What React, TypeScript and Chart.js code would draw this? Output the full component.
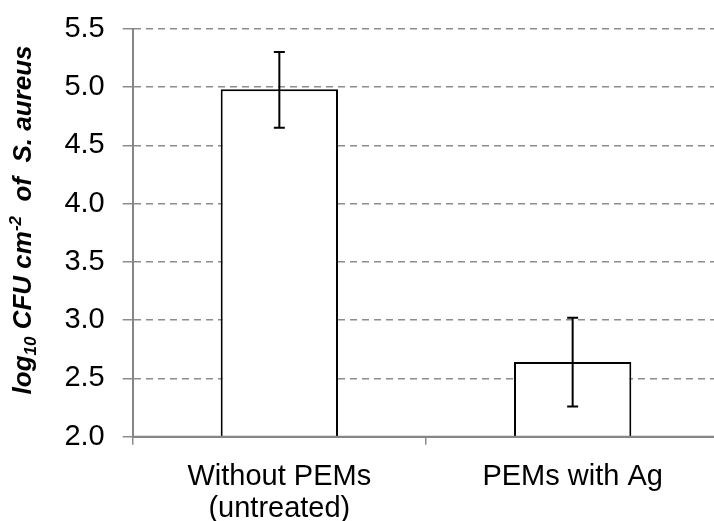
import React, { useEffect, useRef } from 'react';
import { Chart, registerables } from 'chart.js';

Chart.register(...registerables);

// ---- data ----
const categories: (string | string[])[] = [['Without PEMs', '(untreated)'], 'PEMs with Ag'];
const means: number[] = [4.98, 2.64];
const errLow: number[] = [4.65, 2.26];
const errHigh: number[] = [5.30, 3.02];
const yMin = 2.0;
const yMax = 5.5;
const yStep = 0.5;
const titleParts = [
  { t: 'log', sub: 0 },
  { t: '10', sub: 1 },
  { t: ' CFU cm', sub: 0 },
  { t: '-2', sub: -1 },
  { t: '  of  S. aureus', sub: 0 },
];

const FONT = 'Arial, "Liberation Sans", sans-serif';
const GRID = '#8c8c8c';
const AXIS = '#868686';

const errorBarPlugin = {
  id: 'errorBars',
  afterDatasetsDraw(chart: any) {
    const { ctx, chartArea } = chart;
    const meta = chart.getDatasetMeta(0);
    const ys = chart.scales.y;
    ctx.save();
    // redraw x-axis line over bar bases
    ctx.strokeStyle = AXIS;
    ctx.lineWidth = 2;
    ctx.beginPath();
    ctx.moveTo(chartArea.left, chartArea.bottom);
    ctx.lineTo(chartArea.right, chartArea.bottom);
    ctx.stroke();
    ctx.strokeStyle = '#000';
    ctx.lineWidth = 2;
    const cap = 5.5;
    meta.data.forEach((bar: any, i: number) => {
      const x = bar.x;
      const yl = ys.getPixelForValue(errLow[i]);
      const yh = ys.getPixelForValue(errHigh[i]);
      ctx.beginPath();
      ctx.moveTo(x, yl);
      ctx.lineTo(x, yh);
      ctx.moveTo(x - cap, yh);
      ctx.lineTo(x + cap, yh);
      ctx.moveTo(x - cap, yl);
      ctx.lineTo(x + cap, yl);
      ctx.stroke();
    });
    ctx.restore();
  },
};

const yTitlePlugin = {
  id: 'yTitle',
  afterDraw(chart: any) {
    const { ctx } = chart;
    const big = 26;
    const small = 17;
    ctx.save();
    ctx.fillStyle = '#000';
    ctx.textBaseline = 'alphabetic';
    ctx.textAlign = 'left';
    const fontFor = (s: number) => `italic bold ${s}px ${FONT}`;
    let total = 0;
    const widths = titleParts.map((p) => {
      ctx.font = fontFor(p.sub ? small : big);
      const w = ctx.measureText(p.t).width;
      total += w;
      return w;
    });
    ctx.translate(31, 220);
    ctx.rotate(-Math.PI / 2);
    let x = -total / 2;
    titleParts.forEach((p, i) => {
      ctx.font = fontFor(p.sub ? small : big);
      const dy = p.sub === 1 ? 5 : p.sub === -1 ? -10 : 0;
      ctx.fillText(p.t, x, dy);
      x += widths[i];
    });
    ctx.restore();
  },
};

export default function App() {
  const ref = useRef<HTMLCanvasElement | null>(null);
  useEffect(() => {
    if (!ref.current) return;
    const chart = new Chart(ref.current, {
      type: 'bar',
      data: {
        labels: categories as any,
        datasets: [
          {
            data: means,
            backgroundColor: '#ffffff',
            borderColor: '#000000',
            borderWidth: 2,
            barPercentage: 0.4,
            categoryPercentage: 1,
          },
        ],
      },
      options: {
        responsive: false,
        animation: false,
        devicePixelRatio: 1,
        layout: { padding: { left: 0, top: 28.7, right: 10.7, bottom: 0 } },
        plugins: { legend: { display: false }, tooltip: { enabled: false }, title: { display: false } },
        scales: {
          x: {
            ticks: {
              color: '#000',
              font: { family: FONT, size: 29, lineHeight: 1.1 },
              padding: 16,
              maxRotation: 0,
              autoSkip: false,
            },
            grid: {
              offset: true,
              drawOnChartArea: false,
              drawTicks: true,
              tickLength: 8,
              color: GRID,
              tickColor: GRID,
              tickWidth: 1.5,
              lineWidth: 1.5,
            },
            border: { display: true, color: AXIS, width: 2 },
            afterFit: (s: any) => {
              s.height = 84.3;
              s.paddingLeft = 0;
              s.paddingRight = 0;
            },
          },
          y: {
            min: yMin,
            max: yMax,
            ticks: {
              stepSize: yStep,
              callback: (v: any) => Number(v).toFixed(1),
              color: '#000',
              font: { family: FONT, size: 29 },
              padding: 18,
            },
            grid: {
              color: GRID,
              lineWidth: 1.5,
              tickLength: 10,
              tickColor: GRID,
              tickWidth: 1.5,
              tickBorderDash: [],
            },
            border: { display: true, color: AXIS, width: 2, dash: [7, 5] },
            afterFit: (s: any) => {
              s.width = 132.7;
              s.paddingTop = 0;
              s.paddingBottom = 0;
            },
          },
        },
      },
      plugins: [errorBarPlugin, yTitlePlugin],
    } as any);
    return () => chart.destroy();
  }, []);
  return (
    <canvas
      ref={ref}
      width={730}
      height={521}
      style={{ position: 'fixed', left: 0, top: 0, display: 'block' }}
    />
  );
}
